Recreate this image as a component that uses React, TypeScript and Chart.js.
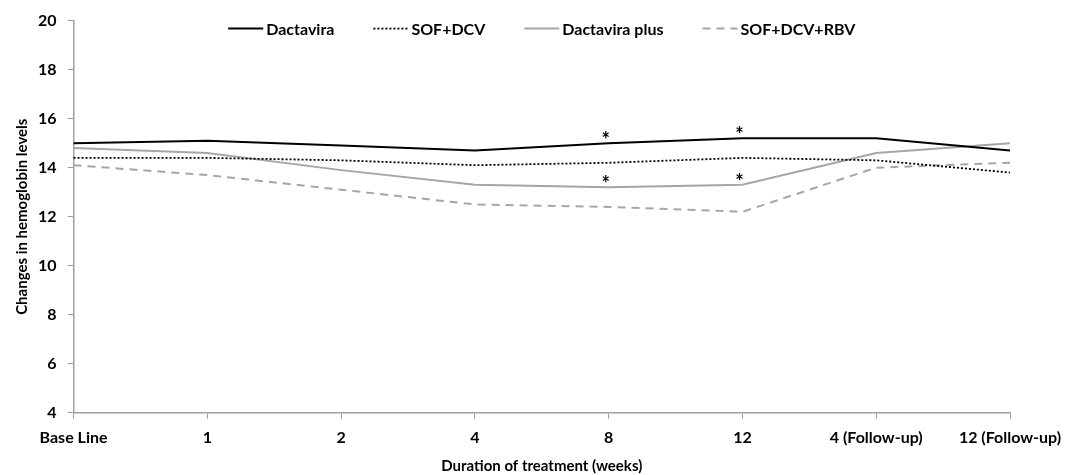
import React, { useEffect, useRef } from "react";
import { Chart, registerables } from "chart.js";

Chart.register(...registerables);

const categories = ["Base Line", "1", "2", "4", "8", "12", "4 (Follow-up)", "12 (Follow-up)"];
const dactavira = [15.0, 15.1, 14.9, 14.7, 15.0, 15.2, 15.2, 14.7];
const sofDcv = [14.4, 14.4, 14.3, 14.1, 14.2, 14.4, 14.3, 13.8];
const dactaviraPlus = [14.8, 14.6, 13.9, 13.3, 13.2, 13.3, 14.6, 15.0];
const sofDcvRbv = [14.1, 13.7, 13.1, 12.5, 12.4, 12.2, 14.0, 14.2];
const starIndices = [4, 5];
const yTicks = [4, 6, 8, 10, 12, 14, 16, 18, 20];

const FONT = "Lato, 'Open Sans', sans-serif";

const starPlugin = {
  id: "stars",
  afterDatasetsDraw(chart: any) {
    const ctx = chart.ctx;
    ctx.save();
    ctx.fillStyle = "#000";
    ctx.font = `bold 20px ${FONT}`;
    ctx.textAlign = "center";
    ctx.textBaseline = "alphabetic";
    [0, 2].forEach((di) => {
      const meta = chart.getDatasetMeta(di);
      starIndices.forEach((i) => {
        const p = meta.data[i];
        ctx.fillText("*", p.x - 3, p.y + 4);
      });
    });
    ctx.restore();
  },
};

const legendPlugin = {
  id: "customLegend",
  afterDraw(chart: any) {
    const ctx = chart.ctx;
    const area = chart.chartArea;
    ctx.save();
    ctx.font = `bold 16px ${FONT}`;
    const lineW = 35;
    const gapLT = 3;
    const gapItem = 39;
    const items = chart.data.datasets.map((ds: any) => ({
      ds,
      w: ctx.measureText(ds.label).width,
    }));
    const total = items.reduce((s: number, it: any) => s + lineW + gapLT + it.w, 0) + gapItem * (items.length - 1);
    let x = (area.left + area.right) / 2 - total / 2;
    const y = area.top + 8;
    items.forEach((it: any) => {
      ctx.beginPath();
      ctx.strokeStyle = it.ds.borderColor;
      ctx.lineWidth = it.ds.borderWidth;
      ctx.setLineDash(it.ds.borderDash || []);
      ctx.moveTo(x, y);
      ctx.lineTo(x + lineW, y);
      ctx.stroke();
      ctx.setLineDash([]);
      ctx.fillStyle = "#000";
      ctx.textBaseline = "middle";
      ctx.textAlign = "left";
      ctx.fillText(it.ds.label, x + lineW + gapLT, y + 1);
      x += lineW + gapLT + it.w + gapItem;
    });
    ctx.restore();
  },
};

export default function App() {
  const ref = useRef<HTMLCanvasElement>(null);
  useEffect(() => {
    document.body.style.margin = "0";
    const chart = new Chart(ref.current!, {
      type: "line",
      data: {
        labels: categories,
        datasets: [
          { label: "Dactavira", data: dactavira, borderColor: "#000", borderWidth: 2, pointRadius: 0, tension: 0 },
          { label: "SOF+DCV", data: sofDcv, borderColor: "#000", borderWidth: 1.8, borderDash: [2, 2], pointRadius: 0 },
          { label: "Dactavira plus", data: dactaviraPlus, borderColor: "#a6a6a6", borderWidth: 2, pointRadius: 0 },
          { label: "SOF+DCV+RBV", data: sofDcvRbv, borderColor: "#a6a6a6", borderWidth: 2, borderDash: [8, 6], pointRadius: 0 },
        ],
      },
      options: {
        animation: false,
        responsive: false,
        maintainAspectRatio: false,
        layout: { padding: { left: 13, right: 67, top: 4, bottom: 0 } },
        plugins: {
          tooltip: { enabled: false },
          legend: { display: false },
        },
        scales: {
          x: {
            type: "category",
            offset: false,
            grid: { display: true, drawOnChartArea: false, drawTicks: true, tickLength: 6, color: "#a0a0a0" },
            border: { color: "#a0a0a0", width: 1.5 },
            ticks: { color: "#000", font: { family: FONT, size: 16, weight: "bold" }, maxRotation: 0, padding: 9 },
            title: { display: true, text: "Duration of treatment (weeks)", color: "#000", font: { family: FONT, size: 15, weight: "bold" }, padding: { top: 1, bottom: 0 } },
          },
          y: {
            min: 4,
            max: 20,
            afterBuildTicks: (s: any) => {
              s.ticks = yTicks.map((v) => ({ value: v }));
            },
            grid: { display: true, drawOnChartArea: false, drawTicks: true, tickLength: 6, color: "#a0a0a0" },
            border: { color: "#a0a0a0", width: 1.5 },
            ticks: { color: "#000", font: { family: FONT, size: 16, weight: "bold" }, padding: 11 },
            title: { display: true, text: "Changes in hemoglobin levels", color: "#000", font: { family: FONT, size: 15, weight: "bold" }, padding: { top: 0, bottom: -4 } },
          },
        },
      },
      plugins: [starPlugin, legendPlugin],
    } as any);
    return () => chart.destroy();
  }, []);
  return (
    <div style={{ position: "absolute", left: 0, top: 0, width: 1077, height: 475 }}>
      <canvas ref={ref} width={1077} height={475} style={{ width: 1077, height: 475 }} />
    </div>
  );
}
